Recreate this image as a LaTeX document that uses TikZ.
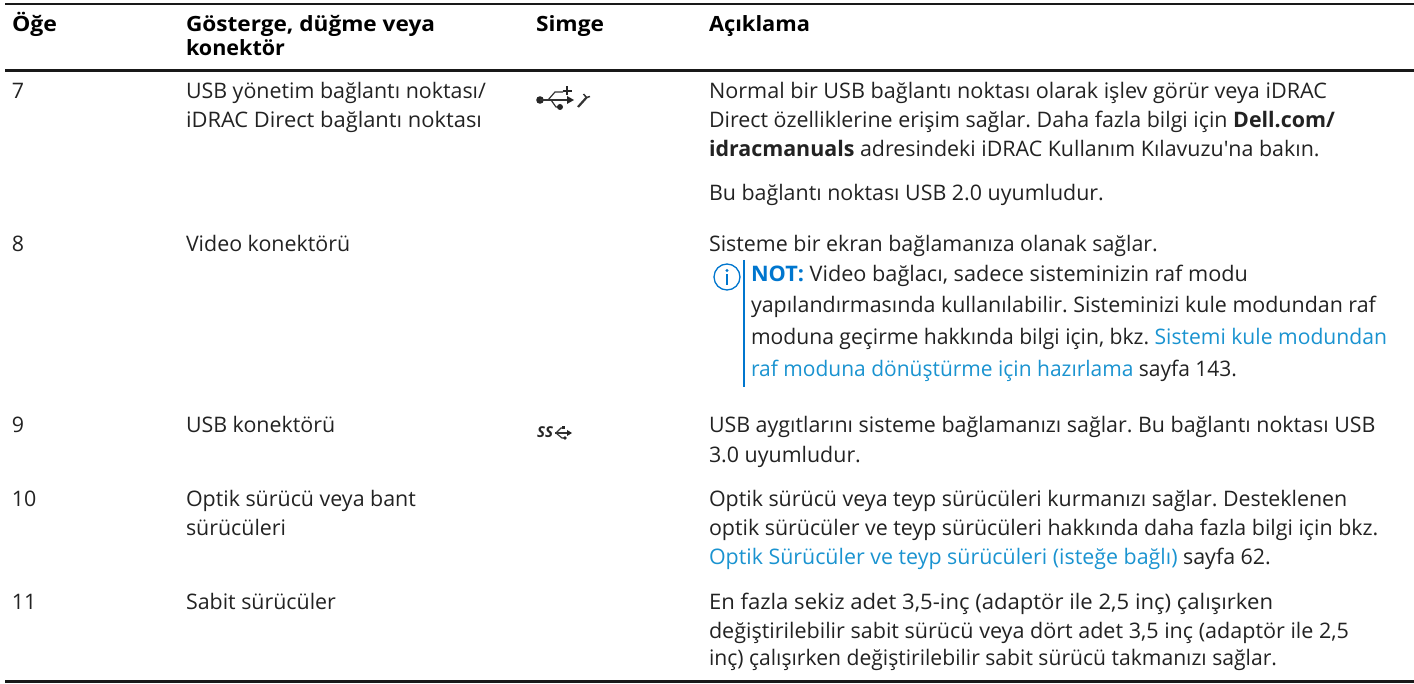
\documentclass[tikz,border=0pt]{standalone}
\usepackage{graphicx}
\usepackage{fontspec}
\setmainfont{Open Sans}
\definecolor{txt}{HTML}{222222}
\definecolor{dellblue}{HTML}{0076CE}
\definecolor{linkblue}{HTML}{1A93D0}
\tikzset{
  cell/.style={anchor=base west,inner sep=0pt,outer sep=0pt,text=txt,font=\fontsize{21.4}{24}\selectfont\frenchspacing},
  head/.style={cell,text=black,font=\fontsize{21}{24}\selectfont\bfseries},
  rule/.style={line width=2.4pt,black!90},
  icon/.style={line width=1.2pt,black!80}
}
\newcommand{\lnk}[1]{\textcolor{linkblue}{#1}}
\newcommand{\fitw}[2]{\resizebox{#1pt}{\height}{#2}}
\begin{document}
\begin{tikzpicture}[x=1pt,y=-1pt]
\useasboundingbox (0,0) rectangle (1414,684);
% rules
\coordinate (t0) at (5,4); \coordinate (t1) at (1414,4);
\coordinate (m0) at (5,70.7); \coordinate (m1) at (1414,70.7);
\coordinate (b0) at (5,681.5); \coordinate (b1) at (1414,681.5);
\draw[rule] (t0)--(t1);
\draw[rule] (m0)--(m1);
\draw[rule] (b0)--(b1);
% header
\node[head] (h1) at (12,32) {\fitw{45}{Öğe}};
\node[head] (h2a) at (186,32) {\fitw{249}{Gösterge, düğme veya}};
\node[head] (h2b) at (186,56) {\fitw{99}{konektör}};
\node[head] (h3) at (536,32) {\fitw{68}{Simge}};
\node[head] (h4) at (709,32) {\fitw{101}{Açıklama}};
% row 7
\node[cell] (n7) at (12,99) {7};
\node[cell] (a7a) at (186,99) {USB yönetim bağlantı noktası/};
\node[cell] (a7b) at (186,128) {\fitw{296}{iDRAC Direct bağlantı noktası}};
\node[cell] (d7a) at (709,99) {\fitw{618}{Normal bir USB bağlantı noktası olarak işlev görür veya iDRAC}};
\node[cell] (d7b) at (709,128) {Direct özelliklerine erişim sağlar. Daha fazla bilgi için \textbf{Dell.com/}};
\node[cell] (d7c) at (709,157) {\textbf{idracmanuals} adresindeki iDRAC Kullanım Kılavuzu\textquotesingle na bakın.};
\node[cell] (d7d) at (709,201) {Bu bağlantı noktası USB 2.0 uyumludur.};
% row 8
\node[cell] (n8) at (12,252) {8};
\node[cell] (a8) at (186,252) {Video konektörü};
\node[cell] (d8a) at (709,252) {Sisteme bir ekran bağlamanıza olanak sağlar.};
\node[cell] (d8b) at (751,282) {\fitw{497}{\textcolor{dellblue}{\textbf{NOT:}} Video bağlacı, sadece sisteminizin raf modu}};
\node[cell] (d8c) at (751,313) {yapılandırmasında kullanılabilir. Sisteminizi kule modundan raf};
\node[cell] (d8d) at (751,345) {\fitw{636}{moduna geçirme hakkında bilgi için, bkz. \lnk{Sistemi kule modundan}}};
\node[cell] (d8e) at (751,377) {\fitw{486}{\lnk{raf moduna dönüştürme için hazırlama} sayfa 143.}};
% note mark
\coordinate (bar0) at (744,260); \coordinate (bar1) at (744,387);
\draw[line width=2.2pt,dellblue] (bar0)--(bar1);
\draw[line width=1.3pt,dellblue] (727,277) circle (13);
\fill[dellblue] (727,270.5) circle (1.6);
\fill[dellblue] (725.6,274) rectangle (728.4,285);
% row 9
\node[cell] (n9) at (12,433) {9};
\node[cell] (a9) at (186,433) {USB konektörü};
\node[cell] (d9a) at (709,433) {USB aygıtlarını sisteme bağlamanızı sağlar. Bu bağlantı noktası USB};
\node[cell] (d9b) at (709,462) {3.0 uyumludur.};
% row 10
\node[cell] (n10) at (12,506) {10};
\node[cell] (a10a) at (186,506) {Optik sürücü veya bant};
\node[cell] (a10b) at (186,535) {sürücüleri};
\node[cell] (d10a) at (709,506) {Optik sürücü veya teyp sürücüleri kurmanızı sağlar. Desteklenen};
\node[cell] (d10b) at (709,535) {optik sürücüler ve teyp sürücüleri hakkında daha fazla bilgi için bkz.};
\node[cell] (d10c) at (709,564) {\lnk{Optik Sürücüler ve teyp sürücüleri (isteğe bağlı)} sayfa 62.};
% row 11
\node[cell] (n11) at (12,609) {11};
\node[cell] (a11) at (186,609) {Sabit sürücüler};
\node[cell] (d11a) at (709,609) {\fitw{564}{En fazla sekiz adet 3,5-inç (adaptör ile 2,5 inç) çalışırken}};
\node[cell] (d11b) at (709,638) {\fitw{640}{değiştirilebilir sabit sürücü veya dört adet 3,5 inç (adaptör ile 2,5}};
\node[cell] (d11c) at (709,665) {\fitw{568}{inç) çalışırken değiştirilebilir sabit sürücü takmanızı sağlar.}};
% USB + wrench icon
\begin{scope}[shift={(536,100)}]
\fill[black!85] (4,0) circle (3.8);
\draw[icon] (4,0)--(32,0);
\fill[black!85] (38,0)--(31,-4)--(31,4)--cycle;
\draw[icon] (12,0)--(19,-8)--(27,-8);
\draw[icon] (15,0)--(20,7)--(24,7);
\fill[black!85] (24,7) circle (3);
\draw[line width=1.8pt,black!85] (31,-13.5)--(31,-4.5); \draw[line width=1.8pt,black!85] (26.5,-9)--(35.5,-9);
\draw[line width=2.2pt,black!80] (42,7)--(51,-3);
\draw[line width=1.5pt,black!80] (47.5,-6)--(50.5,-2.5)--(54,-3.5);
\end{scope}
% SS USB icon
\begin{scope}[shift={(536,438)}]
\node[inner sep=0pt,anchor=base west,text=black!85,font=\fontsize{15}{15}\selectfont\bfseries\itshape] (ss) at (1,0) {SS};
\draw[icon] (19,-5)--(32,-5);
\draw[icon] (20,-5)--(25,-10)--(28,-10);
\draw[icon] (20,-5)--(26,0)--(29,0);
\fill[black!85] (36,-5)--(31,-8)--(31,-2)--cycle;
\fill[black!85] (26,-12) rectangle (29,-9);
\fill[black!85] (29,0) circle (1.8);
\end{scope}
\end{tikzpicture}
\end{document}
